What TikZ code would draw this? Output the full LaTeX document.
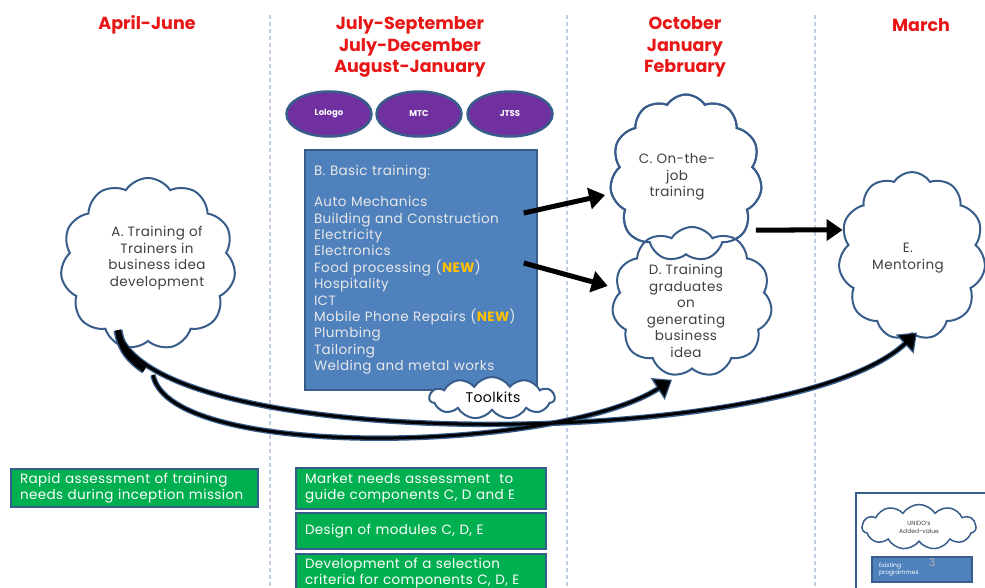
\documentclass[tikz,border=0pt]{standalone}
\usepackage{fontspec}
\setmainfont{Poppins}
\newfontfamily\gothic[LetterSpace=3]{Poppins}
\usetikzlibrary{shapes.symbols,shapes.geometric,arrows.meta,calc}
\definecolor{hdrred}{RGB}{232,22,22}
\definecolor{purp}{RGB}{112,48,160}
\definecolor{edgeblue}{RGB}{56,93,138}
\definecolor{boxblue}{RGB}{79,129,189}
\definecolor{grn}{RGB}{0,176,80}
\definecolor{dashc}{RGB}{190,205,225}
\definecolor{txtgray}{RGB}{64,64,64}
\definecolor{lighttxt}{RGB}{232,232,232}
\definecolor{gold}{RGB}{255,192,0}
\begin{document}
\begin{tikzpicture}[x=1pt,y=-1pt,
  hdr/.style={text=hdrred, font=\bfseries\fontsize{17.5}{21.5}\selectfont, align=center, inner sep=0},
  sep/.style={dashc, line width=1.5pt, dash pattern=on 4pt off 3pt},
  oval/.style={ellipse, fill=purp, draw=edgeblue, line width=2.5pt, minimum width=85pt, minimum height=45pt, text=white, font=\bfseries\fontsize{8.5}{9}\selectfont},
  bluebox/.style={rectangle, fill=boxblue, draw=edgeblue, line width=1.5pt},
  puff/.style={cloud, cloud puffs=11, cloud puff arc=115, cloud ignores aspect, draw=edgeblue, line width=2pt, fill=white, inner sep=0},
  cloudtxt/.style={align=center, text=txtgray, font=\gothic\fontsize{13.5}{16.5}\selectfont, inner sep=0},
  greenbox/.style={rectangle, fill=grn, draw=edgeblue, line width=2pt, text=white, align=left, font=\gothic\fontsize{13.5}{16.5}\selectfont, inner xsep=9pt, inner ysep=0pt, anchor=north west},
  fatarrow/.style={black, line width=5pt, -{Triangle[length=16pt,width=21pt]}},
  curveout/.style={edgeblue, line width=5.5pt, -{Triangle[length=17pt,width=25pt]}},
  curvein/.style={black, line width=3pt, shorten >=1.6pt, -{Triangle[length=14pt,width=20pt]}}
]
\clip (0,0) rectangle (985,588);
\fill[white] (0,0) rectangle (985,588);

% column separators
\draw[sep] (270,15) -- (270,588);
\draw[sep] (567,15) -- (567,588);
\draw[sep] (815,15) -- (815,588);

% headers
\node[hdr] (h1) at (147,25) {April-June};
\node[hdr] (h2) at (410,47) {July-September\\July-December\\August-January};
\node[hdr] (h3) at (685,47) {October\\January\\February};
\node[hdr] (h4) at (921,25) {March};

% centres
\node[oval] (lologo) at (329,114) {Lologo};
\node[oval] (mtc) at (419,114) {MTC};
\node[oval] (jtss) at (510,114) {JTSS};

% basic training box
\node[bluebox, minimum width=232pt, minimum height=240pt, text width=214pt, align=left,
      text=lighttxt, font=\gothic\fontsize{13.5}{16.4}\selectfont] (B) at (421,270)
{B. Basic training:\\[14.5pt]
Auto Mechanics\\
Building and Construction\\
Electricity\\
Electronics\\
Food processing (\textbf{\textcolor{gold}{NEW}})\\
Hospitality\\
ICT\\
Mobile Phone Repairs (\textbf{\textcolor{gold}{NEW}})\\
Plumbing\\
Tailoring\\
Welding and metal works};

\node[puff, minimum width=125pt, minimum height=42pt] (T) at (492,398) {};
\node[cloudtxt, text=black, font=\gothic\fontsize{14}{15}\selectfont] (Tt) at (493,397) {Toolkits};

% clouds
\node[puff, minimum width=175pt, minimum height=172pt] (A) at (148,264) {};
\node[puff, minimum width=152pt, minimum height=167pt] (C) at (686,178) {};
\node[puff, minimum width=160pt, minimum height=150pt] (D) at (692,302) {};
\node[puff, fill=none, minimum width=152pt, minimum height=167pt] (C2) at (686,178) {};
\node[puff, minimum width=147pt, minimum height=168pt] (E) at (912,256) {};
\node[cloudtxt] (At) at (157,258) {A. Training of\\Trainers in\\business idea\\development};
\node[cloudtxt] (Ct) at (677,177) {C. On-the-\\job\\training};
\node[cloudtxt] (Dt) at (686,311) {D. Training\\graduates\\on\\generating\\business\\idea};
\node[cloudtxt] (Et) at (908,258) {E.\\Mentoring};

% straight arrows
\draw[fatarrow] ($(B.east)+(-14,-57)$) -- ($(C.west)+(-6,17)$);
\draw[fatarrow] ($(B.east)+(-14,-7)$) -- ($(D.west)+(-5,-16)$);
\draw[fatarrow] ($(C.east)+(-5,52)$) -- ($(E.west)+(3,-26)$);

% curved arrows
\coordinate (aout) at ($(A.south)+(-30,-12)$);
\coordinate (fork) at (153,375);
\coordinate (dend) at ($(D.south)+(-20,10)$);
\coordinate (eend) at ($(E.south)+(5,-2)$);
% outlines
\draw[edgeblue, line width=9pt] (aout) .. controls (121.2,349.7) and (130.5,360.2) .. (144.7,369.5);
\draw[curveout] (fork) .. controls (170,462) and (560,452) .. (dend);
\draw[curveout] (aout) .. controls (150,455) and (790,452) .. (eend);
% black bodies
\draw[black, line width=6pt] (aout) .. controls (121.2,349.7) and (130.5,360.2) .. (144.7,369.5);
\draw[curvein]  (fork) .. controls (170,462) and (560,452) .. (dend);
\draw[curvein]  (aout) .. controls (150,455) and (790,452) .. (eend);

% green activity boxes
\node[greenbox, minimum width=247pt, minimum height=38pt, text width=229pt] (g1) at (10,468) {Rapid assessment of training\\needs during inception mission};
\node[greenbox, minimum width=250pt, minimum height=41pt, text width=232pt] (g2) at (295,467) {Market needs assessment\ \ to\\guide components C, D and E};
\node[greenbox, minimum width=250pt, minimum height=36pt, text width=232pt] (g3) at (295,512) {Design of modules C, D, E};
\node[greenbox, minimum width=250pt, minimum height=38pt, text width=232pt] (g4) at (295,553) {Development of a selection\\criteria for components C, D, E};

% legend
\draw[edgeblue, line width=2pt, fill=white] (856,493) rectangle (1000,600);
\node[puff, minimum width=114pt, minimum height=45pt, line width=1.5pt] (L1) at (919,527) {};
\node[cloudtxt, font=\fontsize{6}{8}\selectfont] (L1t) at (919,527) {UNIDO's\\Added-value};
\node[bluebox, minimum width=100pt, minimum height=25pt, text width=86pt, align=left, text=white, font=\fontsize{6}{7}\selectfont] (L2) at (922,569.5) {Existing\\programmes};
\node[text=gray!60, font=\fontsize{11}{12}\selectfont] (L3) at (932,562) {3};
\end{tikzpicture}
\end{document}
